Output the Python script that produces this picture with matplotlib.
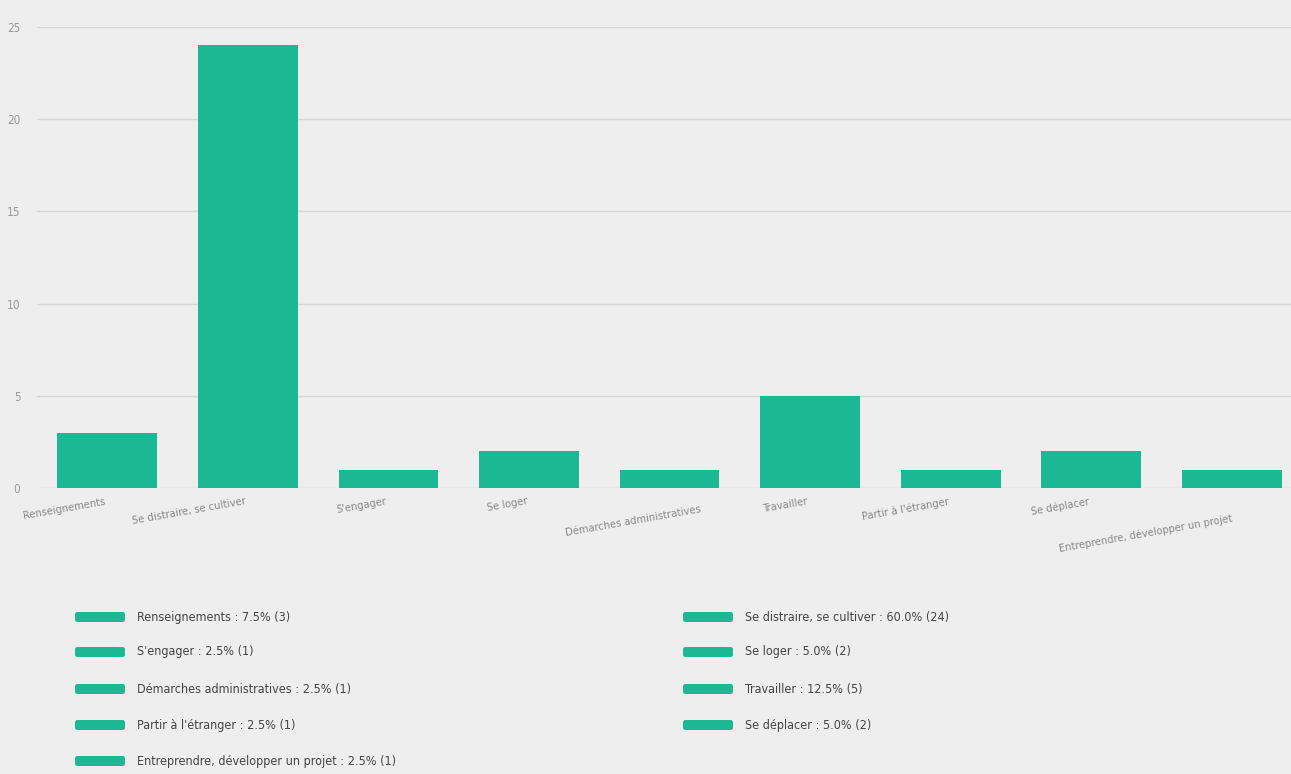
import matplotlib
matplotlib.use("Agg")
import matplotlib.pyplot as plt
from matplotlib.patches import FancyBboxPatch

categories = ["Renseignements", "Se distraire, se cultiver", "S'engager", "Se loger",
              "Démarches administratives", "Travailler", "Partir à l'étranger",
              "Se déplacer", "Entreprendre, développer un projet"]
values = [3, 24, 1, 2, 1, 5, 1, 2, 1]
yticks = [0, 5, 10, 15, 20, 25]

BAR = "#1cb894"
BG = "#eeeeee"

plt.rcParams['font.family'] = ['DejaVu Sans']

W, H = 1291, 774
fig = plt.figure(figsize=(W / 100, H / 100), dpi=100, facecolor=BG)
ax = fig.add_axes([37 / W, (H - 488) / H, (W - 37) / W, (488 - 27) / H])
ax.set_facecolor(BG)

x = list(range(len(categories)))
ax.bar(x, values, width=0.71, color=BAR, zorder=3)
ax.set_xlim(-0.5, (W - 107) / 140.6)
ax.set_ylim(0, 25)
ax.set_yticks(yticks)
ax.set_yticklabels([str(t) for t in yticks], color="#999999", fontsize=8.5, fontstretch='condensed')
ax.tick_params(axis='y', length=0, pad=12)
ax.grid(axis='y', color="#d6d6d6", linewidth=1, zorder=0)
for s in ax.spines.values():
    s.set_visible(False)
ax.set_xticks([])

# category labels, rotated
offsets = {4: (24, 6), 8: (2, 12)}
for i, lab in enumerate(categories):
    dx, dy = offsets.get(i, (0, 0))
    ax.annotate(lab, xy=(i, 0), xycoords='data', xytext=(-2 + dx, -6 - dy), textcoords='offset points',
                rotation=10, ha='right', va='top', rotation_mode='anchor',
                fontsize=8, color="#888888", fontstretch='condensed')

# legend (manual, two columns, row-major)
total = sum(values)
rows_y = [617, 652, 689, 725, 761]
col_x = [(75, 137), (683, 745)]
for k, (lab, v) in enumerate(zip(categories, values)):
    r, c = divmod(k, 2)
    py = rows_y[r]
    px, tx = col_x[c]
    patch = FancyBboxPatch((px / 100, (H - py - 5) / 100), 50 / 100, 10 / 100,
                           boxstyle="round,pad=0,rounding_size=0.025",
                           transform=fig.dpi_scale_trans, facecolor=BAR, edgecolor='none')
    fig.patches.append(patch)
    fig.text(tx / W, (H - py) / H, f"{lab} : {v / total * 100:.1f}% ({v})",
             ha='left', va='center', fontsize=9, color="#444444", fontstretch='condensed')

fig.savefig("out.png", dpi=100, facecolor=BG)
